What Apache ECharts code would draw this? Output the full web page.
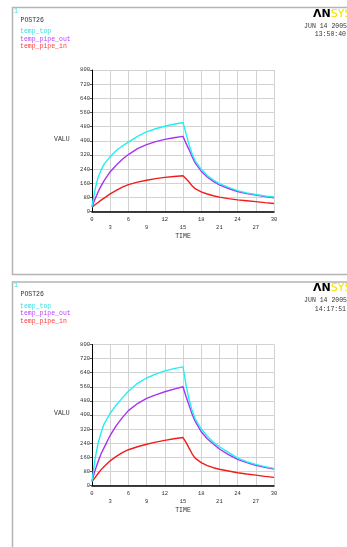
<!DOCTYPE html>
<html>
<head>
<meta charset="utf-8">
<script src="https://cdn.jsdelivr.net/npm/echarts@6/dist/echarts.min.js"></script>
<style>
  html, body { margin: 0; padding: 0; background: #fff; }
  #chart { width: 347px; height: 547px; }
</style>
</head>
<body>
<div id="chart"></div>
<script>
// 时间轴 (两张图共用)
const timeData = [0, 0.5, 1, 1.5, 2, 3, 4, 5, 6, 7.5, 9, 10.5, 12, 13.5, 15,
  15.5, 16, 16.5, 17, 18, 19, 20, 21, 22.5, 24, 25.5, 27, 28.5, 30];

// 上图 13:50:40
const top1 = [28, 125, 192, 235, 268, 310, 345, 370, 392, 425, 450, 468, 482, 493, 503,
  440, 378, 325, 288, 238, 203, 178, 158, 136, 118, 105, 96, 88, 82];
const pipeOut1 = [25, 70, 110, 145, 175, 225, 262, 295, 322, 355, 378, 395, 408, 417, 425,
  385, 350, 310, 275, 228, 195, 170, 151, 130, 113, 101, 93, 85, 78];
const pipeIn1 = [25, 38, 51, 64, 76, 100, 120, 138, 152, 166, 177, 186, 193, 198, 202,
  185, 167, 145, 129, 111, 99, 89, 81, 73, 66, 61, 56, 50, 45];

// 下图 14:17:51
const top2 = [25, 150, 240, 300, 350, 410, 457, 497, 535, 580, 610, 632, 650, 663, 673,
  570, 488, 425, 380, 322, 280, 245, 220, 188, 155, 135, 120, 107, 97];
const pipeOut2 = [25, 85, 135, 180, 215, 285, 340, 385, 425, 465, 494, 514, 532, 547, 560,
  505, 455, 405, 365, 305, 265, 235, 207, 175, 148, 130, 115, 103, 93];
const pipeIn2 = [22, 45, 68, 90, 108, 140, 165, 186, 203, 220, 234, 246, 256, 265, 272,
  245, 212, 180, 155, 130, 113, 101, 92, 82, 72, 65, 59, 52, 46];

const seriesNames = ['temp_top', 'temp_pipe_out', 'temp_pipe_in'];
const seriesColors = ['#22f0f0', '#a833ee', '#f01c1c'];
const legendColors = ['#33dede', '#bb44ff', '#ff3a3a'];
const stampTimes = ['13:50:40', '14:17:51'];

const monoFont = '"Liberation Mono", "DejaVu Sans Mono", monospace';
const PANEL_OFFSET = 274.5;

const pair = (ys) => timeData.map((t, i) => [t, ys[i]]);

const makeXAxis = (gridIndex) => ({
  type: 'value',
  gridIndex,
  min: 0,
  max: 30,
  interval: 3,
  name: 'TIME',
  nameLocation: 'middle',
  nameGap: 19,
  nameTextStyle: { fontFamily: monoFont, fontSize: 6.5, color: '#333' },
  axisLine: { show: true, onZero: false, lineStyle: { color: '#000', width: 1.5 } },
  axisTick: { show: false },
  axisLabel: {
    fontFamily: monoFont,
    fontSize: 5.5,
    color: '#333',
    margin: 4,
    lineHeight: 8,
    showMinLabel: true,
    showMaxLabel: true,
    formatter: (v) => ((v / 3) % 2 === 1 ? '\n' + v : String(v))
  },
  splitLine: { show: true, lineStyle: { color: '#d2d2d2', width: 1 } }
});

const makeYAxis = (gridIndex) => ({
  type: 'value',
  gridIndex,
  min: 0,
  max: 800,
  interval: 80,
  axisLine: { show: true, lineStyle: { color: '#000', width: 1 } },
  axisTick: { show: true, length: 2, lineStyle: { color: '#555' } },
  axisLabel: {
    fontFamily: monoFont,
    fontSize: 5.5,
    color: '#333',
    margin: 2
  },
  splitLine: { show: true, lineStyle: { color: '#d2d2d2', width: 1 } }
});

const panelData = [[top1, pipeOut1, pipeIn1], [top2, pipeOut2, pipeIn2]];
const series = [];
panelData.forEach((group, g) => {
  group.forEach((ys, k) => {
    series.push({
      name: seriesNames[k],
      type: 'line',
      xAxisIndex: g,
      yAxisIndex: g,
      data: pair(ys),
      showSymbol: false,
      symbol: 'none',
      lineStyle: { color: seriesColors[k], width: 1.4 },
      z: 5 - k
    });
  });
});

// 每张图的文字和边框
const graphic = [];
[0, 1].forEach((g) => {
  const dy = g * PANEL_OFFSET;
  graphic.push({
    type: 'rect',
    shape: { x: 12.5, y: 7.5 + dy, width: 345, height: 267 },
    style: { fill: 'none', stroke: '#b4b4b4', lineWidth: 1.5 },
    silent: true
  });
  graphic.push({
    type: 'text', left: 14, top: 7.5 + dy,
    style: { text: '1', fill: '#33dede', font: '6.5px ' + monoFont }
  });
  graphic.push({
    type: 'text', left: 20.5, top: 16.5 + dy,
    style: { text: 'POST26', fill: '#333', font: '6.5px ' + monoFont }
  });
  seriesNames.forEach((n, k) => {
    graphic.push({
      type: 'text', left: 20, top: 28 + k * 7.5 + dy,
      style: { text: n, fill: legendColors[k], font: '6.5px ' + monoFont }
    });
  });
  graphic.push({
    type: 'text', x: 313, y: 8.5 + dy,
    style: {
      text: '{a|ΛN}{b|SYS}',
      rich: {
        a: { fill: '#000', font: 'bold 11px "DejaVu Sans", sans-serif' },
        b: { fill: '#f5e000', font: '11px "DejaVu Sans", sans-serif' }
      }
    }
  });
  graphic.push({
    type: 'text', x: 347, y: 22.5 + dy,
    style: { text: 'JUN 14 2005', fill: '#333', font: '6.5px ' + monoFont, align: 'right' }
  });
  graphic.push({
    type: 'text', x: 346, y: 31 + dy,
    style: { text: stampTimes[g], fill: '#333', font: '6.5px ' + monoFont, align: 'right' }
  });
  graphic.push({
    type: 'text', x: 54, y: 135.5 + dy,
    style: { text: 'VALU', fill: '#333', font: '6.5px ' + monoFont }
  });
});

const myChart = echarts.init(document.getElementById('chart'), null, { renderer: 'canvas' });
const option = {
  animation: false,
  backgroundColor: '#fff',
  grid: [
    { left: 92, top: 70, width: 182, height: 141.5 },
    { left: 92, top: 70 + PANEL_OFFSET, width: 182, height: 141 }
  ],
  xAxis: [makeXAxis(0), makeXAxis(1)],
  yAxis: [makeYAxis(0), makeYAxis(1)],
  series,
  graphic
};
myChart.setOption(option);
</script>
</body>
</html>
